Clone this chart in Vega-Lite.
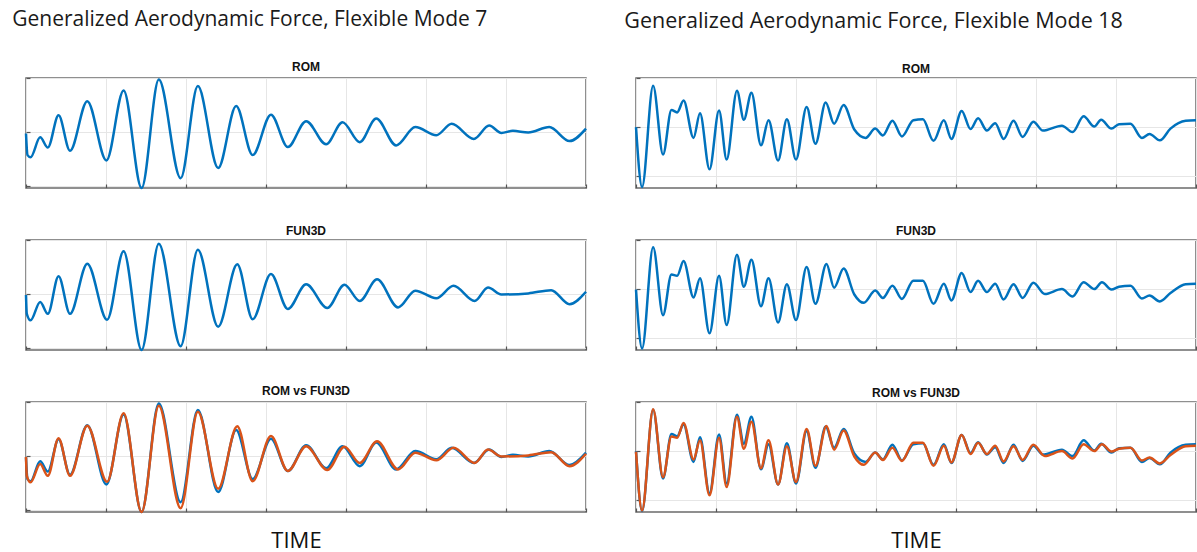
{
  "$schema": "https://vega.github.io/schema/vega-lite/v6.json",
  "background": "white",
  "padding": {"left": 12, "top": 8, "right": 0, "bottom": 0},
  "datasets": {
    "m7rom": [{"t":0,"v":-0.03},{"t":0.019,"v":-0.43},{"t":0.057,"v":-0.47},{"t":0.177,"v":-0.1},{"t":0.273,"v":-0.29},{"t":0.407,"v":0.31},{"t":0.55,"v":-0.35},{"t":0.766,"v":0.57},{"t":1.005,"v":-0.53},{"t":1.22,"v":0.77},{"t":1.445,"v":-1.04},{"t":1.66,"v":0.97},{"t":1.933,"v":-0.86},{"t":2.148,"v":0.85},{"t":2.402,"v":-0.67},{"t":2.627,"v":0.48},{"t":2.833,"v":-0.43},{"t":3.062,"v":0.32},{"t":3.273,"v":-0.28},{"t":3.502,"v":0.2},{"t":3.751,"v":-0.23},{"t":3.957,"v":0.18},{"t":4.172,"v":-0.19},{"t":4.378,"v":0.25},{"t":4.627,"v":-0.25},{"t":4.866,"v":0.09},{"t":5.129,"v":-0.06},{"t":5.321,"v":0.15},{"t":5.598,"v":-0.13},{"t":5.789,"v":0.12},{"t":5.943,"v":-0.02},{"t":6.086,"v":0.02},{"t":6.278,"v":-0.01},{"t":6.541,"v":0.09},{"t":6.794,"v":-0.17},{"t":7,"v":0.06}],
    "m7fun": [{"t":0,"v":-0.02},{"t":0.01,"v":-0.37},{"t":0.057,"v":-0.49},{"t":0.177,"v":-0.15},{"t":0.273,"v":-0.37},{"t":0.407,"v":0.33},{"t":0.55,"v":-0.37},{"t":0.766,"v":0.56},{"t":1.014,"v":-0.48},{"t":1.22,"v":0.79},{"t":1.445,"v":-1.04},{"t":1.66,"v":0.93},{"t":1.933,"v":-0.97},{"t":2.148,"v":0.82},{"t":2.402,"v":-0.61},{"t":2.641,"v":0.55},{"t":2.833,"v":-0.47},{"t":3.062,"v":0.37},{"t":3.273,"v":-0.28},{"t":3.502,"v":0.18},{"t":3.766,"v":-0.26},{"t":3.981,"v":0.17},{"t":4.172,"v":-0.13},{"t":4.388,"v":0.27},{"t":4.651,"v":-0.25},{"t":4.866,"v":0.06},{"t":5.129,"v":-0.08},{"t":5.344,"v":0.15},{"t":5.608,"v":-0.13},{"t":5.775,"v":0.12},{"t":5.943,"v":-0.01},{"t":6.278,"v":0.01},{"t":6.565,"v":0.07},{"t":6.794,"v":-0.19},{"t":7,"v":0.04}],
    "m18rom": [{"t":0,"v":0},{"t":0.076,"v":-1.22},{"t":0.214,"v":0.84},{"t":0.338,"v":-0.56},{"t":0.443,"v":0.35},{"t":0.514,"v":0.3},{"t":0.595,"v":0.54},{"t":0.719,"v":-0.22},{"t":0.8,"v":0.28},{"t":0.919,"v":-0.86},{"t":1.038,"v":0.34},{"t":1.133,"v":-0.66},{"t":1.262,"v":0.74},{"t":1.348,"v":0.15},{"t":1.443,"v":0.7},{"t":1.562,"v":-0.37},{"t":1.657,"v":0.14},{"t":1.776,"v":-0.68},{"t":1.886,"v":0.16},{"t":2,"v":-0.66},{"t":2.133,"v":0.41},{"t":2.243,"v":-0.34},{"t":2.371,"v":0.5},{"t":2.476,"v":0.07},{"t":2.595,"v":0.45},{"t":2.729,"v":-0.05},{"t":2.871,"v":-0.22},{"t":2.99,"v":-0.03},{"t":3.086,"v":-0.17},{"t":3.205,"v":0.13},{"t":3.324,"v":-0.19},{"t":3.467,"v":0.14},{"t":3.586,"v":0.16},{"t":3.719,"v":-0.28},{"t":3.848,"v":0.14},{"t":3.943,"v":-0.24},{"t":4.071,"v":0.33},{"t":4.181,"v":-0.04},{"t":4.276,"v":0.18},{"t":4.386,"v":-0.07},{"t":4.49,"v":0.08},{"t":4.595,"v":-0.24},{"t":4.719,"v":0.13},{"t":4.833,"v":-0.2},{"t":4.967,"v":0.11},{"t":5.086,"v":-0.07},{"t":5.324,"v":0.03},{"t":5.457,"v":-0.1},{"t":5.595,"v":0.22},{"t":5.729,"v":0.01},{"t":5.814,"v":0.15},{"t":5.943,"v":-0.03},{"t":6.038,"v":0.06},{"t":6.181,"v":0.07},{"t":6.324,"v":-0.22},{"t":6.419,"v":-0.14},{"t":6.548,"v":-0.27},{"t":6.681,"v":-0.03},{"t":6.871,"v":0.13},{"t":7,"v":0.14}],
    "m18fun": [{"t":0,"v":-0.01},{"t":0.076,"v":-1.21},{"t":0.214,"v":0.85},{"t":0.338,"v":-0.53},{"t":0.443,"v":0.3},{"t":0.514,"v":0.27},{"t":0.595,"v":0.57},{"t":0.719,"v":-0.17},{"t":0.8,"v":0.22},{"t":0.919,"v":-0.9},{"t":1.038,"v":0.27},{"t":1.133,"v":-0.73},{"t":1.262,"v":0.7},{"t":1.348,"v":0.05},{"t":1.443,"v":0.6},{"t":1.562,"v":-0.35},{"t":1.657,"v":0.22},{"t":1.776,"v":-0.68},{"t":1.886,"v":0.1},{"t":2,"v":-0.63},{"t":2.133,"v":0.45},{"t":2.243,"v":-0.3},{"t":2.381,"v":0.51},{"t":2.476,"v":0.03},{"t":2.595,"v":0.42},{"t":2.729,"v":-0.11},{"t":2.848,"v":-0.28},{"t":2.99,"v":-0.03},{"t":3.086,"v":-0.18},{"t":3.205,"v":0.07},{"t":3.324,"v":-0.2},{"t":3.467,"v":0.17},{"t":3.586,"v":0.17},{"t":3.719,"v":-0.3},{"t":3.848,"v":0.11},{"t":3.943,"v":-0.23},{"t":4.071,"v":0.33},{"t":4.181,"v":-0.06},{"t":4.276,"v":0.17},{"t":4.386,"v":-0.06},{"t":4.49,"v":0.11},{"t":4.595,"v":-0.21},{"t":4.719,"v":0.1},{"t":4.833,"v":-0.18},{"t":4.967,"v":0.13},{"t":5.11,"v":-0.1},{"t":5.324,"v":0},{"t":5.457,"v":-0.15},{"t":5.595,"v":0.14},{"t":5.729,"v":0},{"t":5.824,"v":0.14},{"t":5.943,"v":-0.01},{"t":6.038,"v":0.05},{"t":6.181,"v":0.07},{"t":6.324,"v":-0.19},{"t":6.419,"v":-0.13},{"t":6.548,"v":-0.25},{"t":6.681,"v":-0.08},{"t":6.871,"v":0.1},{"t":7,"v":0.11}]
  },
  "spacing": 32,
  "hconcat": [
    {
      "title": {"text": "Generalized Aerodynamic Force, Flexible Mode 7", "anchor": "start", "dx": -8, "offset": 30, "font": "Open Sans", "fontSize": 21, "fontWeight": "normal", "color": "#1a1a1a"},
      "bounds": "flush",
      "spacing": 52,
      "vconcat": [
        {
          "title": "ROM", "width": 560, "height": 110,
          "data": {"name": "m7rom"},
          "mark": {"type": "line", "color": "#0072BD", "strokeWidth": 2.5, "interpolate": "monotone"},
          "encoding": {
            "x": {"field": "t", "type": "quantitative", "scale": {"domain": [0, 7], "nice": false}, "axis": {"values": [0,1,2,3,4,5,6,7], "title": null}},
            "y": {"field": "v", "type": "quantitative", "scale": {"domain": [-1.04, 1.0], "nice": false}, "axis": {"values": [-1, 0, 1], "title": null}}
          }
        },
        {
          "title": "FUN3D", "width": 560, "height": 110,
          "data": {"name": "m7fun"},
          "mark": {"type": "line", "color": "#0072BD", "strokeWidth": 2.5, "interpolate": "monotone"},
          "encoding": {
            "x": {"field": "t", "type": "quantitative", "scale": {"domain": [0, 7], "nice": false}, "axis": {"values": [0,1,2,3,4,5,6,7], "title": null}},
            "y": {"field": "v", "type": "quantitative", "scale": {"domain": [-1.04, 1.0], "nice": false}, "axis": {"values": [-1, 0, 1], "title": null}}
          }
        },
        {
          "title": "ROM vs FUN3D", "width": 560, "height": 110,
          "layer": [
            {
              "data": {"name": "m7rom"},
              "mark": {"type": "line", "color": "#0072BD", "strokeWidth": 2.5, "interpolate": "monotone"},
              "encoding": {
                "x": {"field": "t", "type": "quantitative", "scale": {"domain": [0, 7], "nice": false}, "axis": {"values": [0,1,2,3,4,5,6,7], "title": "TIME", "titleX": 270}},
                "y": {"field": "v", "type": "quantitative", "scale": {"domain": [-1.04, 1.0], "nice": false}, "axis": {"values": [-1, 0, 1], "title": null}}
              }
            },
            {
              "data": {"name": "m7fun"},
              "mark": {"type": "line", "color": "#D95319", "strokeWidth": 2.5, "interpolate": "monotone"},
              "encoding": {
                "x": {"field": "t", "type": "quantitative"},
                "y": {"field": "v", "type": "quantitative"}
              }
            }
          ]
        }
      ]
    },
    {
      "title": {"text": "Generalized Aerodynamic Force, Flexible Mode 18", "anchor": "start", "dx": -6, "offset": 30, "font": "Open Sans", "fontSize": 21.5, "fontWeight": "normal", "color": "#1a1a1a"},
      "bounds": "flush",
      "spacing": 52,
      "vconcat": [
        {
          "title": "ROM", "width": 560, "height": 110,
          "data": {"name": "m18rom"},
          "mark": {"type": "line", "color": "#0072BD", "strokeWidth": 2.5, "interpolate": "monotone"},
          "encoding": {
            "x": {"field": "t", "type": "quantitative", "scale": {"domain": [0, 7], "nice": false}, "axis": {"values": [0,1,2,3,4,5,6,7], "title": null}},
            "y": {"field": "v", "type": "quantitative", "scale": {"domain": [-1.24, 1.0], "nice": false}, "axis": {"values": [-1, 0, 1], "title": null}}
          }
        },
        {
          "title": "FUN3D", "width": 560, "height": 110,
          "data": {"name": "m18fun"},
          "mark": {"type": "line", "color": "#0072BD", "strokeWidth": 2.5, "interpolate": "monotone"},
          "encoding": {
            "x": {"field": "t", "type": "quantitative", "scale": {"domain": [0, 7], "nice": false}, "axis": {"values": [0,1,2,3,4,5,6,7], "title": null}},
            "y": {"field": "v", "type": "quantitative", "scale": {"domain": [-1.24, 1.0], "nice": false}, "axis": {"values": [-1, 0, 1], "title": null}}
          }
        },
        {
          "title": "ROM vs FUN3D", "width": 560, "height": 110,
          "layer": [
            {
              "data": {"name": "m18rom"},
              "mark": {"type": "line", "color": "#0072BD", "strokeWidth": 2.5, "interpolate": "monotone"},
              "encoding": {
                "x": {"field": "t", "type": "quantitative", "scale": {"domain": [0, 7], "nice": false}, "axis": {"values": [0,1,2,3,4,5,6,7], "title": "TIME"}},
                "y": {"field": "v", "type": "quantitative", "scale": {"domain": [-1.24, 1.0], "nice": false}, "axis": {"values": [-1, 0, 1], "title": null}}
              }
            },
            {
              "data": {"name": "m18fun"},
              "mark": {"type": "line", "color": "#D95319", "strokeWidth": 2.5, "interpolate": "monotone"},
              "encoding": {
                "x": {"field": "t", "type": "quantitative"},
                "y": {"field": "v", "type": "quantitative"}
              }
            }
          ]
        }
      ]
    }
  ],
  "config": {
    "view": {"stroke": "#6b6b6b", "strokeWidth": 1.5},
    "title": {"font": "Liberation Sans", "fontSize": 12, "fontWeight": "bold", "color": "#111111", "offset": 1},
    "axis": {"labels": false, "domain": false, "ticks": true, "tickSize": -4, "tickColor": "#555555", "tickWidth": 1.2, "grid": true, "gridColor": "#e6e6e6", "gridWidth": 1, "titleFont": "Open Sans", "titleFontSize": 22, "titleFontWeight": "normal", "titleColor": "#111111", "titlePadding": 18}
  }
}
